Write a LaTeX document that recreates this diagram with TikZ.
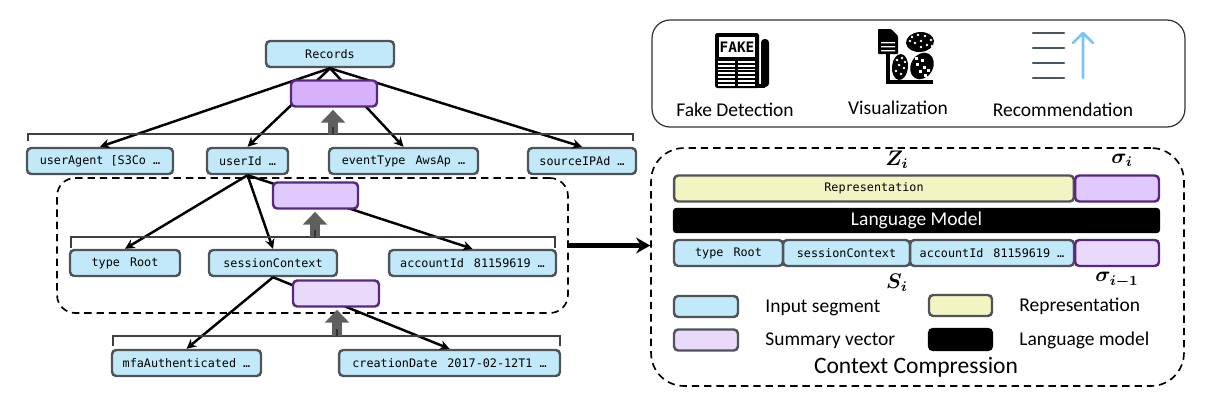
\documentclass[tikz,border=0pt]{standalone}
\usepackage{fontspec}
\usepackage{amsmath,bm}
\setmainfont{Carlito}
\newfontfamily\segfont{DejaVu Sans Mono}
\newcommand{\kvgap}{\hspace{0.85em}}
\usetikzlibrary{arrows.meta}
\definecolor{segblue}{HTML}{C1E9F9}
\definecolor{segline}{HTML}{505458}
\definecolor{sumline}{HTML}{57287F}
\definecolor{sumA}{HTML}{D8B1FD}
\definecolor{sumB}{HTML}{E0C9FC}
\definecolor{sumC}{HTML}{E9DAFB}
\definecolor{repyellow}{HTML}{F2F4C1}
\definecolor{upgray}{HTML}{5F5F5F}
\definecolor{recline}{HTML}{4B5663}
\definecolor{recblue}{HTML}{7CC3FB}
\tikzset{
	box/.style={draw,rounded corners=2.4pt,line width=1.4pt,inner sep=0pt,minimum height=0.52cm,font=\segfont\fontsize{6.7}{8}\selectfont},
	seg/.style={box,draw=segline,fill=segblue},
	rep/.style={box,draw=segline,fill=repyellow},
	summ/.style={box,draw=sumline},
	lang/.style={box,draw=black,fill=black,text=white},
	dashbox/.style={draw,line width=0.95pt,dash pattern=on 4.2pt off 2.8pt},
	tree/.style={line width=1.4pt,-{Stealth[length=5.5pt,width=5.5pt]}},
	up/.style={line width=5.5pt,draw=upgray,-{Triangle[length=7.3pt,width=13.6pt,fill=upgray]}},
	brace/.style={line width=0.8pt,draw=black!75},
	capt/.style={font=\fontsize{11.1}{13}\selectfont},
	sym/.style={font=\fontsize{12}{14}\selectfont}
}
\begin{document}
\begin{tikzpicture}[x=0.02cm,y=-0.02cm]
	\useasboundingbox (0,0) rectangle (1224,406);
	% left tree
	\node[dashbox,rounded corners=0.36cm,minimum width=10.22cm,minimum height=2.7cm] (dashA) at (312.5,245.5) {};
	\node[seg,minimum width=2.56cm] (records) at (330,54) {Records};
	\node[seg,minimum width=2.92cm] (userAgent) at (100,161) {userAgent [S3Co …};
	\node[seg,minimum width=1.62cm] (userId) at (247.5,161) {userId …};
	\node[seg,minimum width=2.98cm] (eventType) at (403.5,161) {eventType\kvgap AwsAp …};
	\node[seg,minimum width=2.16cm] (sourceIP) at (582,161) {sourceIPAd …};
	\node[seg,minimum width=2.2cm] (typeRoot) at (125,263) {type\kvgap Root};
	\node[seg,minimum width=2.56cm] (sessionCtx) at (273,263) {sessionContext};
	\node[seg,minimum width=3.34cm] (accountId) at (472.5,263) {accountId\kvgap 81159619 …};
	\node[seg,minimum width=2.98cm] (mfaAuth) at (186.5,363) {mfaAuthenticated …};
	\node[seg,minimum width=4.42cm] (creationDate) at (449.5,363) {creationDate\kvgap 2017-02-12T1 …};
	\foreach \t in {userAgent,userId,eventType,sourceIP}
		\draw[tree] (records.south) -- (\t.north);
	\foreach \t in {typeRoot,sessionCtx,accountId}
		\draw[tree] (userId.south) -- (\t.north);
	\foreach \t in {mfaAuth,creationDate}
		\draw[tree] (sessionCtx.south) -- (\t.north);
	\node[summ,fill=sumA,minimum width=1.72cm] (sumTop) at (334,93.5) {};
	\node[summ,fill=sumB,minimum width=1.7cm] (sumMid) at (315.5,195.5) {};
	\node[summ,fill=sumC,minimum width=1.72cm] (sumLow) at (336,293.5) {};
	% brackets
	\draw[brace] (28,141) -- (28,134) -- (633,134) -- (633,141);
	\draw[brace] (71,248) -- (71,237) -- (555,237) -- (555,248);
	\draw[brace] (113,346) -- (113,336) -- (560,336) -- (560,346);
	\coordinate (upTop) at (333,134);
	\coordinate (upMid) at (315,237);
	\coordinate (upLow) at (337,336);
	\draw[up,shorten >=1.2pt] (upTop) -- (upTop |- sumTop.south);
	\draw[up,shorten >=1.2pt] (upMid) -- (upMid |- sumMid.south);
	\draw[up,shorten >=1.2pt] (upLow) -- (upLow |- sumLow.south);
	\foreach \u in {upTop,upMid,upLow}
		\draw[line width=0.7pt,draw=black!80] (\u) -- ++(0,-7);
	% right, tasks
	\node[draw=black!80,line width=0.7pt,rounded corners=0.36cm,minimum width=10.66cm,minimum height=2.14cm] (tasks) at (918.5,73.5) {};
	\node[capt] (fakeLab) at (735,110) {Fake Detection};
	\node[capt] (visLab) at (898,108) {Visualization};
	\node[capt] (recLab) at (1063,110) {Recommendation};
	% newspaper
	\fill[black,rounded corners=1pt] (715,33) rectangle (759,88);
	\fill[black,rounded corners=2pt] (761,39) rectangle (769,87);
	\fill[black] (755,84) rectangle (765,88);
	\fill[white] (719,37) rectangle (755,57);
	\node[inner sep=0pt,font=\segfont\bfseries\fontsize{8.2}{10}\selectfont] (fakeTxt) at (737,47) {FAKE};
	\foreach \y in {61,64.8,...,84} {
		\fill[white] (718,\y) rectangle (735,\y+1.7);
		\fill[white] (738,\y) rectangle (755,\y+1.7);
	}
	% scatter
	\fill[black,rounded corners=0.5pt] (878,29) -- (891,29) -- (898,36) -- (898,54) -- (878,54) -- cycle;
	\fill[white] (881,42) rectangle (895,43.4) (881,46) rectangle (895,47.4) (881,50) rectangle (895,51.4);
	\draw[black,line width=2pt] (888,54) -- (888,82) -- (933,82);
	\fill[black,rotate around={5:(920,42)}] (920,42) ellipse (14 and 10);
	\fill[black,rotate around={-5:(900,67)}] (900,67) ellipse (8 and 13);
	\fill[black,rotate around={-30:(922,66)}] (922,66) ellipse (11 and 14);
	\foreach \a/\b in {912/37,918/35,925/36,931/40,915/43,921/41,927/45,910/41,921/47,932/46,
		897/60,902/58,899/65,904/68,896/71,901/74,905/62}
		\fill[white] (\a,\b) circle (1.4);
	\foreach \a/\b in {916/58,922/60,917/64,924/67,928/70,920/71,925/75}
		\fill[white] (\a-1.5,\b-1.5) rectangle (\a+1.5,\b+1.5);
	% ranking
	\foreach \y in {33,48,63,78}
		\draw[recline,line width=1.5pt,line cap=round] (1033,\y) -- (1064,\y);
	\draw[recblue,line width=1.5pt,line join=round,line cap=round] (1083,78) -- (1083,33) (1073,43) -- (1083,33) -- (1093,43);
	% right, compression
	\node[dashbox,rounded corners=0.66cm,minimum width=10.66cm,minimum height=4.76cm] (dashB) at (917.5,267) {};
	\node[rep,minimum width=8cm] (repBar) at (874,188.5) {Representation};
	\node[summ,fill=sumB,minimum width=1.68cm] (sigmaI) at (1117,188.5) {};
	\node[lang,minimum width=9.7cm,minimum height=0.46cm,rounded corners=1.5pt,font=\fontsize{11.1}{13}\selectfont] (lm) at (916.5,220.5) {Language Model};
	\node[seg,minimum width=2.18cm] (inA) at (728.5,253) {type\kvgap Root};
	\node[seg,minimum width=2.54cm] (inB) at (846.5,253) {sessionContext};
	\node[seg,minimum width=3.28cm] (inC) at (992,253) {accountId\kvgap 81159619 …};
	\node[summ,fill=sumC,minimum width=1.68cm] (sigmaP) at (1117,253) {};
	\node[sym] (zi) at (897,160) {$\bm{Z_i}$};
	\node[sym] (si) at (1122,160) {$\bm{\sigma_i}$};
	\node[sym] (ss) at (897,283) {$\bm{S_i}$};
	\node[sym] (sp) at (1117,280) {$\bm{\sigma_{i-1}}$};
	% legend
	\node[seg,minimum width=1.28cm,minimum height=0.42cm] (lgSeg) at (706,306.5) {};
	\node[rep,minimum width=1.26cm,minimum height=0.42cm] (lgRep) at (960.5,305.5) {};
	\node[box,draw=segline,fill=sumC,minimum width=1.28cm,minimum height=0.42cm] (lgSum) at (706,340) {};
	\node[lang,minimum width=1.26cm,minimum height=0.42cm] (lgLang) at (960.5,339.5) {};
	\node[capt,anchor=west,inner sep=0pt] (tSeg) at (765,308) {Input segment};
	\node[capt,anchor=west,inner sep=0pt] (tRep) at (1019,306) {Representation};
	\node[capt,anchor=west,inner sep=0pt] (tSum) at (765,341) {Summary vector};
	\node[capt,anchor=west,inner sep=0pt] (tLang) at (1019,340) {Language model};
	\node[font=\fontsize{13.4}{15}\selectfont] (ctxLab) at (916,367) {Context Compression};
	\draw[line width=2.6pt,-{Stealth[length=8pt,width=9pt]}] (dashA.east) -- (dashA.east -| dashB.west);
\end{tikzpicture}
\end{document}
